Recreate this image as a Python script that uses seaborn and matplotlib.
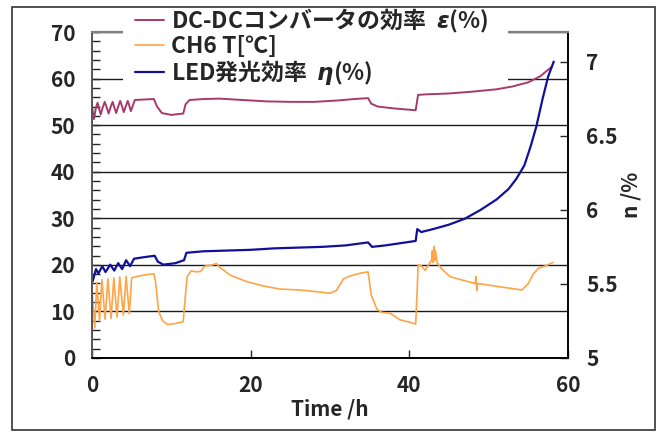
import matplotlib
matplotlib.use('Agg')
import matplotlib.pyplot as plt
from matplotlib.patches import Rectangle
from matplotlib.ticker import MultipleLocator, FormatStrFormatter
import seaborn as sns

# ── data ──────────────────────────────────────────────────────────────────────
# DC-DC converter efficiency ε (%) — left axis
eps_t = [0.0, 0.25, 0.5, 0.7, 0.9, 1.1, 1.35, 1.6, 1.85, 2.1, 2.35, 2.6, 2.8, 3.05,
         3.3, 3.55, 3.8, 4.0, 4.25, 4.5, 4.7, 4.9, 5.4,
         6.5, 7.8, 8.2, 8.8, 10.0, 11.5, 11.8, 12.3, 14, 16, 19, 22, 25, 28,
         31, 33, 34.8, 35.2, 36, 38, 40.8, 41.1, 42, 45, 48, 51, 53, 55, 56.5, 58.0]
eps_v = [54.0, 51.3, 53.8, 54.8, 53.5, 52.3, 53.8, 55.0, 53.8, 52.5, 53.9, 55.0, 53.9, 52.6,
         54.0, 55.2, 54.0, 52.8, 54.0, 55.2, 54.2, 53.0, 55.4,
         55.5, 55.6, 54.0, 52.6, 52.2, 52.5, 54.5, 55.4, 55.6, 55.7, 55.4, 55.1, 55.0, 55.0,
         55.3, 55.6, 55.8, 54.6, 54.0, 53.6, 53.2, 56.5, 56.6, 56.8, 57.2, 57.7, 58.3, 59.2, 60.5, 62.6]

# CH6 temperature (°C) — left axis
temp_t = [0.0, 0.1, 0.35, 0.6, 0.95, 1.25, 1.65, 2.0, 2.4, 2.75, 3.15, 3.5, 3.95, 4.3,
          4.7, 5.0, 5.4, 6.5, 7.8, 8.0, 8.4, 8.9, 9.5, 10.5, 11.5, 11.7, 12.0, 12.5,
          13.2, 13.7, 14.2, 15.2, 15.7, 16.0, 17.4, 19.5, 21.5, 23.7, 26.2, 28.5, 30.0,
          30.8, 31.7, 32.5, 33.8, 34.8, 35.0, 35.2, 35.9, 36.5, 37.6, 38.8, 40.0, 40.8,
          41.0, 41.1, 41.5, 42.0, 42.4, 42.8, 42.9, 43.0, 43.1, 43.2, 43.3, 43.5, 44.0,
          45.1, 46.5, 48.3, 48.4, 48.5, 48.6, 51.4, 54.2, 55.0, 55.6, 56.3, 57.2, 58.1]
temp_v = [15.5, 12.0, 6.5, 16.2, 8.0, 16.8, 8.3, 17.0, 8.5, 17.2, 8.8, 17.4, 9.2, 17.5,
          9.5, 17.2, 17.4, 17.8, 18.1, 16.5, 10.0, 8.0, 7.2, 7.4, 7.8, 12.0, 17.5, 18.7,
          18.5, 18.6, 19.7, 20.0, 20.3, 19.6, 17.8, 16.4, 15.5, 14.8, 14.6, 14.2, 13.9,
          14.5, 17.0, 17.6, 18.2, 18.5, 16.0, 13.5, 10.5, 9.8, 9.6, 8.2, 7.7, 7.3,
          15.0, 20.0, 19.8, 18.8, 20.0, 21.0, 23.0, 20.5, 23.9, 21.0, 23.0, 20.5, 19.3,
          17.5, 16.8, 16.0, 17.5, 14.5, 16.0, 15.3, 14.6, 16.0, 18.0, 19.3, 19.8, 20.5]

# LED luminous efficiency η (%) — right axis
eta_t = [0.0, 0.1, 0.5, 0.8, 1.3, 1.7, 2.3, 2.8, 3.3, 3.8, 4.3, 4.8, 5.3, 6.5, 7.9,
         8.3, 9.0, 10.5, 11.6, 11.9, 14, 17, 20, 23, 26, 29, 32, 34.8, 35.3, 37, 40.8,
         41.0, 41.5, 43, 45, 47, 49, 51, 52.5, 53.5, 54.5, 55.3, 56, 56.8, 57.5, 58.2]
eta_v = [5.53, 5.52, 5.60, 5.57, 5.62, 5.58, 5.63, 5.59, 5.64, 5.60, 5.66, 5.62, 5.67, 5.68, 5.69,
         5.65, 5.63, 5.64, 5.66, 5.71, 5.72, 5.725, 5.73, 5.74, 5.745, 5.75, 5.76, 5.78, 5.75, 5.76, 5.79,
         5.87, 5.85, 5.87, 5.90, 5.94, 6.00, 6.07, 6.14, 6.21, 6.30, 6.43, 6.56, 6.75, 6.90, 7.00]

LABELS = ['DC-DCコンバータの効率  $\\varepsilon$(%)', 'CH6 T[℃]', 'LED発光効率  $\\eta$(%)']
COLORS = {'eps': '#A63A6A', 'temp': '#FFA447', 'eta': '#10109A'}

# ── style ─────────────────────────────────────────────────────────────────────
sns.set_style('ticks')
plt.rcParams['font.family'] = ['Noto Sans CJK JP', 'DejaVu Sans']
plt.rcParams['font.weight'] = 'bold'
plt.rcParams['font.size'] = 15

fig = plt.figure(figsize=(6.6, 4.32), dpi=100)
ax = fig.add_axes([92 / 660, 74 / 432, 476 / 660, 326 / 432])
ax2 = ax.twinx()

sns.lineplot(x=eps_t, y=eps_v, ax=ax, color=COLORS['eps'], lw=1.4,
             sort=False, estimator=None, label=LABELS[0], legend=False)
sns.lineplot(x=temp_t, y=temp_v, ax=ax, color=COLORS['temp'], lw=1.2,
             sort=False, estimator=None, label=LABELS[1], legend=False)
sns.lineplot(x=eta_t, y=eta_v, ax=ax2, color=COLORS['eta'], lw=1.6,
             sort=False, estimator=None, label=LABELS[2], legend=False)

# ── axes ──────────────────────────────────────────────────────────────────────
ax.set_xlim(0, 60)
ax.set_ylim(0, 70)
ax2.set_ylim(5, 7.2)
ax.xaxis.set_major_locator(MultipleLocator(20))
ax.yaxis.set_major_locator(MultipleLocator(10))
ax.yaxis.set_minor_locator(MultipleLocator(2))
ax2.yaxis.set_major_locator(MultipleLocator(0.5))
ax2.yaxis.set_major_formatter(FormatStrFormatter('%g'))

ax.grid(axis='y', color='#1a1a1a', lw=1.0)
ax.tick_params(axis='both', which='both', direction='in', length=6, width=1,
               labelsize=15, pad=12)
ax.tick_params(axis='x', top=False)
ax.tick_params(axis='y', right=False)
ax2.tick_params(axis='y', direction='in', length=6, width=1, labelsize=15, pad=13)

for a in (ax, ax2):
    for side in ('left', 'right', 'bottom'):
        a.spines[side].set_color('black')
        a.spines[side].set_linewidth(1.2)
    a.spines['top'].set_color('#808080')
    a.spines['top'].set_linewidth(1.5)
    a.spines['left'].set_color('#555555')

ax.set_xlabel('Time /h', fontsize=15, fontweight='bold', labelpad=2)
ax.set_ylabel('')
ax2.set_ylabel('n /%', fontsize=15, fontweight='bold', labelpad=2)
for lab in ax.get_xticklabels() + ax.get_yticklabels() + ax2.get_yticklabels():
    lab.set_fontweight('bold')

# ── legend on a white patch that hides the grid behind it ─────────────────────
fig.add_artist(Rectangle((123 / 660, 350 / 432), 385 / 660, 74 / 432,
                         transform=fig.transFigure, facecolor='white',
                         edgecolor='none', zorder=4))
handles = ax.get_lines()[:2] + ax2.get_lines()[:1]
leg = fig.legend(handles, LABELS, loc='upper left',
                 bbox_to_anchor=(114 / 660, 1 + 14 / 432), frameon=False,
                 handlelength=1.3, handletextpad=0.3, labelspacing=0.0,
                 prop={'size': 16.5, 'weight': 'bold'})
leg.set_zorder(5)

# outer frame
fig.add_artist(Rectangle((12 / 660, 2 / 432), 643 / 660, 423 / 432,
                         transform=fig.transFigure, facecolor='none',
                         edgecolor='#333333', lw=1.2, zorder=6))

plt.savefig('out.png', dpi=100, facecolor='white')
plt.close()
